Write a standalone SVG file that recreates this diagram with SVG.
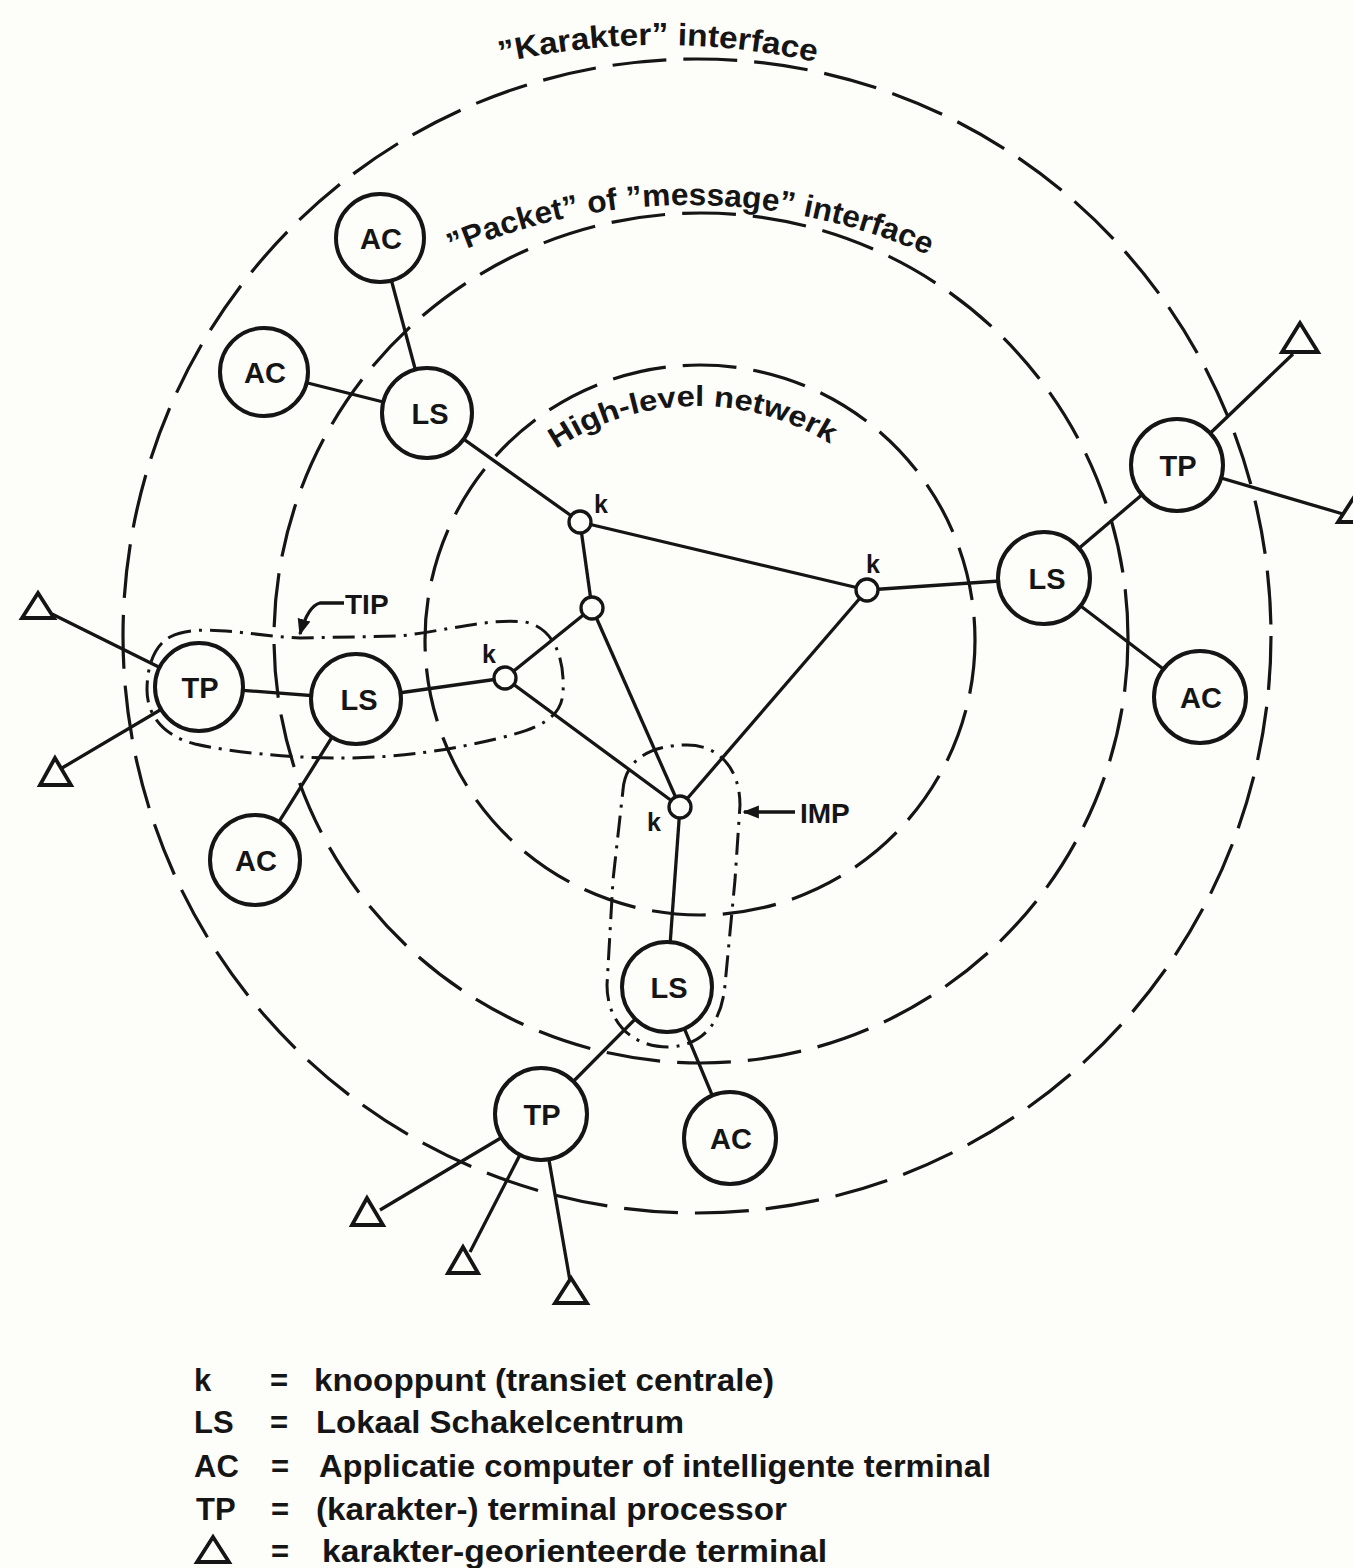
<svg xmlns="http://www.w3.org/2000/svg" width="1353" height="1568" viewBox="0 0 1353 1568">
<style>
.bg{fill:#fdfdfa}
.ring{fill:none;stroke:#151515;stroke-width:3.2;stroke-dasharray:54 17}
.encl{fill:none;stroke:#151515;stroke-width:3;stroke-dasharray:22 8 3 8}
.ln{stroke:#151515;stroke-width:3.3;fill:none}
.node{fill:#fdfdfa;stroke:#151515;stroke-width:4}
.kn{fill:#fdfdfa;stroke:#151515;stroke-width:3.3}
.tri{fill:none;stroke:#151515;stroke-width:3.8;stroke-linejoin:miter}
.lbl{font-family:"Liberation Sans",Arial,sans-serif;font-weight:bold;font-size:29px;fill:#151515;text-anchor:middle}
.t{font-family:"Liberation Sans",Arial,sans-serif;font-weight:bold;fill:#151515}
</style>
<defs>
<path id="karPath" d="M -55,760 A 715 715 0 0 1 1375,760"/>
<path id="pkPath" d="M 100,795 A 590 590 0 0 1 1280,795"/>
<path id="hlPath" d="M 445,658 A 252 252 0 0 1 949,658"/>
<marker id="arr" viewBox="0 0 10 10" refX="9" refY="5" markerWidth="5" markerHeight="5" orient="auto-start-reverse" markerUnits="strokeWidth"><path d="M0,1 L10,5 L0,9 Z" fill="#151515"/></marker>
</defs>
<rect class="bg" x="0" y="0" width="1353" height="1568"/>

<g id="rings">
<ellipse class="ring" cx="697" cy="636" rx="574" ry="577"/>
<ellipse class="ring" cx="701" cy="638" rx="427" ry="425"/>
<circle class="ring" cx="700" cy="640" r="275"/>
</g>

<g id="ring-labels" class="t">
<text font-size="31"><textPath href="#karPath" startOffset="1121" text-anchor="middle" textLength="318" lengthAdjust="spacingAndGlyphs">”Karakter” interface</textPath></text>
<text font-size="31"><textPath href="#pkPath" startOffset="927" text-anchor="middle" textLength="490" lengthAdjust="spacingAndGlyphs">”Packet” of ”message” interface</textPath></text>
<text font-size="29"><textPath href="#hlPath" startOffset="391" text-anchor="middle" textLength="290" lengthAdjust="spacingAndGlyphs">High-level netwerk</textPath></text>
</g>

<g id="TIP">
<path class="encl" d="M 170,637 C 200,622 250,636 300,638 L 400,636 C 450,630 490,618 525,622 C 555,628 565,660 563,693 C 561,718 540,728 500,738 C 450,750 400,758 340,758 C 290,758 230,752 195,744 C 160,735 147,712 147,690 C 147,665 155,645 170,637 Z"/>
<path class="ln" d="M 344,603 L 320,603 Q 308,606 300,634" marker-end="url(#arr)"/>
<text class="t" font-size="28" x="345" y="614">TIP</text>
</g>

<g id="IMP">
<path class="encl" d="M 623,790 C 625,760 650,745 687,745 C 720,745 740,770 740,805 L 735,880 L 725,985 C 722,1020 705,1046 668,1047 C 630,1047 607,1020 607,985 L 613,880 Z"/>
<path class="ln" d="M 795,812 L 744,812" marker-end="url(#arr)"/>
<text class="t" font-size="28" x="800" y="823">IMP</text>
</g>

<g id="connectors">
<line class="ln" x1="380" y1="238" x2="427" y2="413"/>
<line class="ln" x1="264" y1="372" x2="427" y2="413"/>
<line class="ln" x1="427" y1="413" x2="580" y2="522"/>
<line class="ln" x1="580" y1="522" x2="867" y2="590"/>
<line class="ln" x1="580" y1="522" x2="592" y2="608"/>
<line class="ln" x1="592" y1="608" x2="505" y2="678"/>
<line class="ln" x1="592" y1="608" x2="680" y2="807"/>
<line class="ln" x1="505" y1="678" x2="680" y2="807"/>
<line class="ln" x1="867" y1="590" x2="680" y2="807"/>
<line class="ln" x1="867" y1="590" x2="1044" y2="578"/>
<line class="ln" x1="1044" y1="578" x2="1177" y2="465"/>
<line class="ln" x1="1044" y1="578" x2="1200" y2="697"/>
<line class="ln" x1="1177" y1="465" x2="1293" y2="354"/>
<line class="ln" x1="1177" y1="465" x2="1343" y2="514"/>
<line class="ln" x1="505" y1="678" x2="356" y2="699"/>
<line class="ln" x1="356" y1="699" x2="199" y2="687"/>
<line class="ln" x1="199" y1="687" x2="52" y2="614"/>
<line class="ln" x1="199" y1="687" x2="62" y2="768"/>
<line class="ln" x1="356" y1="699" x2="255" y2="860"/>
<line class="ln" x1="680" y1="807" x2="667" y2="987"/>
<line class="ln" x1="667" y1="987" x2="541" y2="1114"/>
<line class="ln" x1="667" y1="987" x2="730" y2="1138"/>
<line class="ln" x1="541" y1="1114" x2="380" y2="1210"/>
<line class="ln" x1="541" y1="1114" x2="470" y2="1252"/>
<line class="ln" x1="541" y1="1114" x2="570" y2="1281"/>
</g>

<g id="node-AC-top"><circle class="node" cx="380" cy="238" r="44"/><text class="lbl" x="381" y="249">AC</text></g>
<g id="node-AC-left"><circle class="node" cx="264" cy="372" r="44"/><text class="lbl" x="265" y="383">AC</text></g>
<g id="node-LS-top"><circle class="node" cx="427" cy="413" r="45"/><text class="lbl" x="430" y="424">LS</text></g>
<g id="node-LS-right"><circle class="node" cx="1044" cy="578" r="46"/><text class="lbl" x="1047" y="589">LS</text></g>
<g id="node-AC-right"><circle class="node" cx="1200" cy="697" r="46"/><text class="lbl" x="1201" y="708">AC</text></g>
<g id="node-TP-right"><circle class="node" cx="1177" cy="465" r="46"/><text class="lbl" x="1178" y="476">TP</text></g>
<g id="node-TP-left"><circle class="node" cx="199" cy="687" r="44"/><text class="lbl" x="200" y="698">TP</text></g>
<g id="node-LS-left"><circle class="node" cx="356" cy="699" r="45"/><text class="lbl" x="359" y="710">LS</text></g>
<g id="node-AC-bl"><circle class="node" cx="255" cy="860" r="45"/><text class="lbl" x="256" y="871">AC</text></g>
<g id="node-LS-bottom"><circle class="node" cx="667" cy="987" r="45"/><text class="lbl" x="669" y="998">LS</text></g>
<g id="node-TP-bottom"><circle class="node" cx="541" cy="1114" r="46"/><text class="lbl" x="542" y="1125">TP</text></g>
<g id="node-AC-bottom"><circle class="node" cx="730" cy="1138" r="46"/><text class="lbl" x="731" y="1149">AC</text></g>

<g id="node-k1"><circle class="kn" cx="580" cy="522" r="11"/><text class="t" font-size="25" x="594" y="513">k</text></g>
<g id="node-k2"><circle class="kn" cx="867" cy="590" r="11"/><text class="t" font-size="25" x="866" y="573">k</text></g>
<g id="node-k3"><circle class="kn" cx="592" cy="608" r="11"/></g>
<g id="node-k4"><circle class="kn" cx="505" cy="678" r="11"/><text class="t" font-size="25" x="482" y="663">k</text></g>
<g id="node-k5"><circle class="kn" cx="680" cy="807" r="11"/><text class="t" font-size="25" x="647" y="831">k</text></g>

<g id="terminals">
<polygon class="tri" points="1300,323 1282,352 1318,352"/>
<polygon class="tri" points="1356,494 1338,522 1374,522"/>
<polygon class="tri" points="38,593 22,618 54,618"/>
<polygon class="tri" points="55,758 40,785 71,785"/>
<polygon class="tri" points="367,1198 352,1225 383,1225"/>
<polygon class="tri" points="463,1247 448,1273 478,1273"/>
<polygon class="tri" points="571,1278 555,1303 587,1303"/>
</g>

<g id="legend" class="t" font-size="31">
<text x="194" y="1391">k</text><text x="270" y="1391">=</text><text x="314" y="1391" textLength="460" lengthAdjust="spacingAndGlyphs">knooppunt (transiet centrale)</text>
<text x="194" y="1433">LS</text><text x="270" y="1433">=</text><text x="316" y="1433" textLength="368" lengthAdjust="spacingAndGlyphs">Lokaal Schakelcentrum</text>
<text x="194" y="1477">AC</text><text x="271" y="1477">=</text><text x="319" y="1477" textLength="672" lengthAdjust="spacingAndGlyphs">Applicatie computer of intelligente terminal</text>
<text x="196" y="1520">TP</text><text x="271" y="1520">=</text><text x="316" y="1520" textLength="471" lengthAdjust="spacingAndGlyphs">(karakter-) terminal processor</text>
<polygon class="tri" points="213,1537 197,1562 229,1562"/>
<text x="271" y="1562">=</text><text x="322" y="1562" textLength="505" lengthAdjust="spacingAndGlyphs">karakter-georienteerde terminal</text>
</g>
</svg>
